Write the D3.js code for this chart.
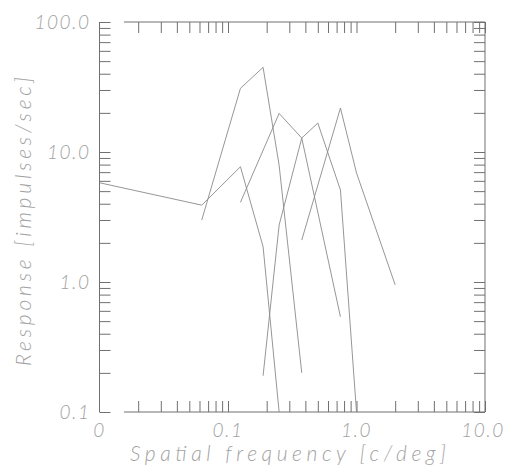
<!DOCTYPE html>
<html>
<head>
<meta charset="utf-8">
<script src="https://cdn.jsdelivr.net/npm/d3@7"></script>
<style>
  html, body { margin: 0; padding: 0; background: #fff; }
  svg { display: block; }
  .lbl { font-family: "Lato", "DejaVu Sans", sans-serif; font-style: italic; font-weight: 300; fill: #a2a2a2; }
</style>
</head>
<body>
<svg id="chart" width="506" height="473"></svg>
<script>
// ---- data ----
// zero frequency is plotted at 0.01 and labelled "0"
const cell1Freq = [0.01, 0.0625, 0.125, 0.1875, 0.25];
const cell1Resp = [5.8, 3.9, 7.7, 1.87, 0.1];
const cell2Freq = [0.0625, 0.125, 0.1875, 0.25, 0.375];
const cell2Resp = [3.0, 30.9, 44.8, 7.9, 0.2];
const cell3Freq = [0.125, 0.25, 0.375, 0.75];
const cell3Resp = [4.1, 19.8, 12.8, 0.54];
const cell4Freq = [0.1875, 0.25, 0.375, 0.5, 0.75, 1.0];
const cell4Resp = [0.19, 2.74, 12.8, 16.7, 5.1, 0.1];
const cell5Freq = [0.375, 0.75, 1.0, 2.0];
const cell5Resp = [2.1, 21.8, 6.9, 0.95];

const xTickValues = [0.01, 0.1, 1, 10];
const xTickLabels = ["0", "0.1", "1.0", "10.0"];
const yTickValues = [0.1, 1, 10, 100];
const yTickLabels = ["0.1", "1.0", "10.0", "100.0"];
const xTitle = "Spatial frequency [c/deg]";
const yTitle = "Response [impulses/sec]";
const xAxisBreak = 0.0155; // x axis line starts after the break

const series = [
  [cell1Freq, cell1Resp], [cell2Freq, cell2Resp], [cell3Freq, cell3Resp],
  [cell4Freq, cell4Resp], [cell5Freq, cell5Resp]
];

// ---- scales ----
const L = 99.5, R = 485, T = 22, B = 412;
const x = d3.scaleLog().domain([0.01, 10]).range([L, R]);
const y = d3.scaleLog().domain([0.1, 100]).range([B, T]);

const svg = d3.select("#chart");

function decadeTicks(lo, hi) {
  const out = [];
  for (let d = lo; d < hi * 0.999; d *= 10)
    for (let k = 1; k <= 10; k++) out.push(+(d * k).toPrecision(6));
  return Array.from(new Set(out));
}
const yMinor = decadeTicks(0.1, 100);
const xMinor = decadeTicks(0.01, 10).filter(v => v > 0.011);

const axisColor = "#707070";
function styleAxis(g) {
  g.select(".domain").remove();
  g.selectAll(".tick line").attr("stroke", axisColor).attr("stroke-width", 1);
  g.selectAll(".tick text").remove();
}

// left / right axes (ticks inward)
svg.append("g").attr("transform", `translate(${L},0)`)
  .call(d3.axisLeft(y).tickValues(yMinor).tickSizeInner(-11).tickSizeOuter(0))
  .call(styleAxis);
svg.append("g").attr("transform", `translate(${R},0)`)
  .call(d3.axisRight(y).tickValues(yMinor).tickSizeInner(-11).tickSizeOuter(0))
  .call(styleAxis);
// top / bottom axes
svg.append("g").attr("transform", `translate(0,${B})`)
  .call(d3.axisBottom(x).tickValues(xMinor).tickSizeInner(-11).tickSizeOuter(0))
  .call(styleAxis);
svg.append("g").attr("transform", `translate(0,${T})`)
  .call(d3.axisTop(x).tickValues(xMinor).tickSizeInner(-11).tickSizeOuter(0))
  .call(styleAxis);

// axis lines
const frame = svg.append("g").attr("stroke", axisColor).attr("stroke-width", 1).attr("fill", "none");
frame.append("line").attr("x1", x(0.01)).attr("x2", x(0.01)).attr("y1", y(0.1)).attr("y2", y(100));
frame.append("line").attr("x1", x(10)).attr("x2", x(10)).attr("y1", y(0.1)).attr("y2", y(100));
frame.append("line").attr("x1", x(xAxisBreak)).attr("x2", x(10)).attr("y1", y(0.1)).attr("y2", y(0.1));
frame.append("line").attr("x1", x(xAxisBreak)).attr("x2", x(10)).attr("y1", y(100)).attr("y2", y(100));

// data lines
const line = d3.line().x(d => x(d[0])).y(d => y(d[1]));
svg.append("g").selectAll("path").data(series).join("path")
  .attr("d", s => line(s[0].map((f, i) => [f, s[1][i]])))
  .attr("fill", "none").attr("stroke", "#8a8a8a").attr("stroke-width", 0.9);

// tick labels
svg.append("g").selectAll("text").data(yTickValues).join("text")
  .attr("class", "lbl")
  .attr("x", L - 9).attr("y", d => y(d) + 7)
  .attr("text-anchor", "end").attr("font-size", 19).attr("letter-spacing", 1.5)
  .text((d, i) => yTickLabels[i]);
svg.append("g").selectAll("text").data(xTickValues).join("text")
  .attr("class", "lbl")
  .attr("x", (d, i) => x(d) + (i === 3 ? -2 : 0)).attr("y", 437)
  .attr("text-anchor", "middle").attr("font-size", 19).attr("letter-spacing", 1.5)
  .text((d, i) => xTickLabels[i]);

// titles
svg.append("text").attr("class", "lbl")
  .attr("x", 130).attr("y", 461).attr("font-size", 21)
  .attr("textLength", 316).attr("lengthAdjust", "spacing")
  .text(xTitle);
svg.append("text").attr("class", "lbl")
  .attr("transform", "translate(31,366) rotate(-90)")
  .attr("font-size", 21)
  .attr("textLength", 289).attr("lengthAdjust", "spacing")
  .text(yTitle);
</script>
</body>
</html>
